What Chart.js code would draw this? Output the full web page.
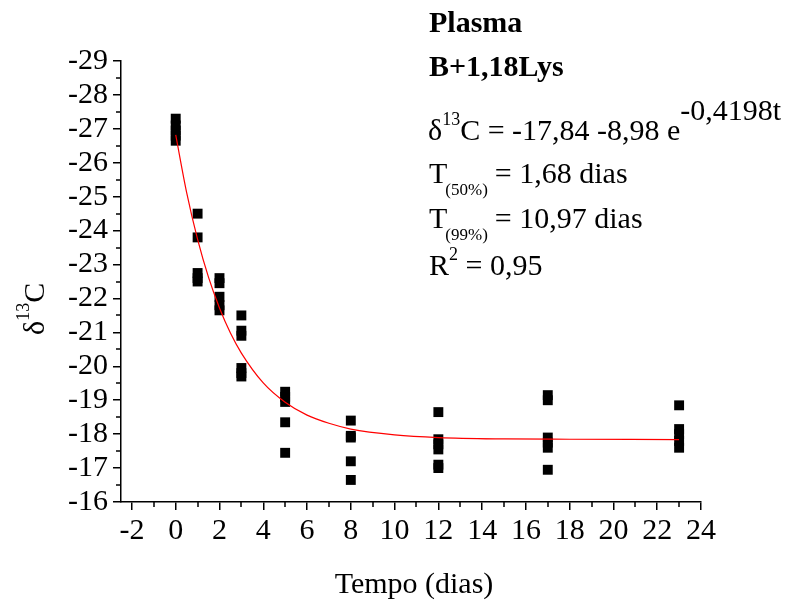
<!DOCTYPE html>
<html>
<head>
<meta charset="utf-8">
<script src="https://cdn.jsdelivr.net/npm/chart.js@4.4.1/dist/chart.umd.min.js"></script>
<style>
  html, body { margin: 0; padding: 0; background: #fff; }
  canvas { display: block; }
</style>
</head>
<body>
<canvas id="decay" width="794" height="600"></canvas>
<script>
// measured samples (days after diet change, delta 13C)
const sampleDays = [
  0, 0, 0, 0, 0,
  1, 1, 1, 1, 1,
  2, 2, 2, 2, 2,
  3, 3, 3, 3, 3, 3,
  5, 5, 5, 5, 5,
  8, 8, 8, 8, 8,
  12, 12, 12, 12, 12, 12,
  17, 17, 17, 17, 17, 17,
  23, 23, 23, 23, 23
]
const sampleD13C = [
  -27.3, -27.1, -26.95, -26.8, -26.65,
  -24.5, -23.8, -22.75, -22.6, -22.5,
  -22.6, -22.45, -22.05, -21.8, -21.65,
  -21.5, -21.05, -20.9, -19.95, -19.8, -19.7,
  -19.25, -19.1, -18.95, -18.35, -17.45,
  -18.4, -17.95, -17.9, -17.2, -16.65,
  -18.65, -17.85, -17.7, -17.55, -17.1, -17.0,
  -19.15, -19.0, -17.9, -17.75, -17.6, -16.95,
  -18.85, -18.15, -18.0, -17.8, -17.6
]

// fitted curve
const fitDays = [0, 0.5, 1, 1.5, 2, 2.5, 3, 4, 5, 6, 7, 8, 10, 12, 15, 18, 23]
const fitD13C = [-26.82, -25.12, -23.74, -22.62, -21.72, -20.98, -20.39, -19.51,
  -18.94, -18.56, -18.32, -18.15, -17.98, -17.9, -17.86, -17.85, -17.84]

const xTicks = [-2, 0, 2, 4, 6, 8, 10, 12, 14, 16, 18, 20, 22, 24]
const xMinorTicks = [-1, 1, 3, 5, 7, 9, 11, 13, 15, 17, 19, 21, 23]
const yTicks = [-29, -28, -27, -26, -25, -24, -23, -22, -21, -20, -19, -18, -17, -16]

const serif = '"Liberation Serif", "Times New Roman", serif'

// draws a row of text pieces (normal / sub / superscript) one after another
function drawRuns (ctx, x, y, runs) {
  let cx = x
  runs.forEach(run => {
    ctx.font = (run.bold ? 'bold ' : '') + run.size + 'px ' + serif
    ctx.fillText(run.text, cx, y + (run.dy || 0))
    cx += ctx.measureText(run.text).width + (run.gap || 0)
  })
}

const extras = {
  id: 'extras',
  afterDatasetsDraw (chart) {
    const ctx = chart.ctx
    const xs = chart.scales.x
    const ys = chart.scales.y
    ctx.save()
    ctx.strokeStyle = '#000'
    ctx.lineWidth = 1.5
    ctx.beginPath()
    xMinorTicks.forEach(v => {
      const px = Math.round(xs.getPixelForValue(v))
      ctx.moveTo(px, ys.bottom)
      ctx.lineTo(px, ys.bottom + 5)
    })
    for (let i = 0; i < yTicks.length - 1; i++) {
      const py = Math.round(ys.getPixelForValue(yTicks[i] + 0.5))
      ctx.moveTo(xs.left, py)
      ctx.lineTo(xs.left - 5, py)
    }
    ctx.stroke()

    ctx.fillStyle = '#000'
    ctx.textBaseline = 'alphabetic'
    ctx.textAlign = 'left'
    drawRuns(ctx, 429, 32, [{ text: 'Plasma', size: 30, bold: true }])
    drawRuns(ctx, 429, 76, [{ text: 'B+1,18Lys', size: 30, bold: true }])
    drawRuns(ctx, 428, 140, [
      { text: 'δ', size: 30 },
      { text: '13', size: 18, dy: -15 },
      { text: 'C = -17,84 -8,98 e', size: 30 },
      { text: '-0,4198t', size: 30, dy: -20 }
    ])
    drawRuns(ctx, 429, 183, [
      { text: 'T', size: 30, gap: -2 },
      { text: '(50%)', size: 17, dy: 12, gap: 7 },
      { text: '= 1,68 dias', size: 30 }
    ])
    drawRuns(ctx, 429, 228, [
      { text: 'T', size: 30, gap: -2 },
      { text: '(99%)', size: 17, dy: 12, gap: 7 },
      { text: '= 10,97 dias', size: 30 }
    ])
    drawRuns(ctx, 429, 275, [
      { text: 'R', size: 30 },
      { text: '2', size: 18, dy: -15 },
      { text: ' = 0,95', size: 30 }
    ])

    // axis titles
    ctx.font = '30px ' + serif
    ctx.textAlign = 'center'
    ctx.fillText('Tempo (dias)', 414, 593)
    ctx.textAlign = 'left'
    ctx.translate(44, 335)
    ctx.rotate(-Math.PI / 2)
    drawRuns(ctx, 0, 0, [
      { text: 'δ', size: 30 },
      { text: '13', size: 18, dy: -15 },
      { text: 'C', size: 30 }
    ])
    ctx.restore()
  }
}

const tickFont = { family: serif, size: 30 }

new Chart(document.getElementById('decay'), {
  type: 'scatter',
  data: {
    datasets: [{
      type: 'line',
      label: 'ajuste',
      data: fitDays.map((d, i) => ({ x: d, y: fitD13C[i] })),
      borderColor: '#ff0000',
      borderWidth: 1.2,
      pointRadius: 0,
      fill: false,
      cubicInterpolationMode: 'monotone'
    }, {
      label: 'amostras',
      data: sampleDays.map((d, i) => ({ x: d, y: sampleD13C[i] })),
      pointStyle: 'rect',
      pointRadius: 7,
      pointBorderWidth: 0,
      backgroundColor: '#000',
      borderColor: '#000'
    }]
  },
  options: {
    responsive: false,
    animation: false,
    layout: { padding: { left: 0, right: 93, top: 61, bottom: 0 } },
    plugins: { legend: { display: false }, tooltip: { enabled: false } },
    scales: {
      x: {
        type: 'linear',
        min: -2.5,
        max: 24,
        afterBuildTicks: scale => { scale.ticks = xTicks.map(v => ({ value: v })) },
        afterFit: scale => { scale.height = 98 },
        grid: { drawOnChartArea: false, tickLength: 8, color: '#000', lineWidth: 1.5 },
        border: { color: '#000', width: 1.5 },
        ticks: { font: tickFont, color: '#000', padding: 3, maxRotation: 0, autoSkip: false, callback: v => String(v) }
      },
      y: {
        type: 'linear',
        min: -29,
        max: -16,
        reverse: true,
        afterBuildTicks: scale => { scale.ticks = yTicks.map(v => ({ value: v })) },
        afterFit: scale => { scale.width = 121 },
        grid: { drawOnChartArea: false, tickLength: 8, color: '#000', lineWidth: 1.5 },
        border: { color: '#000', width: 1.5 },
        ticks: { font: tickFont, color: '#000', padding: 5, autoSkip: false, callback: v => String(v) }
      }
    }
  },
  plugins: [extras]
})
</script>
</body>
</html>
